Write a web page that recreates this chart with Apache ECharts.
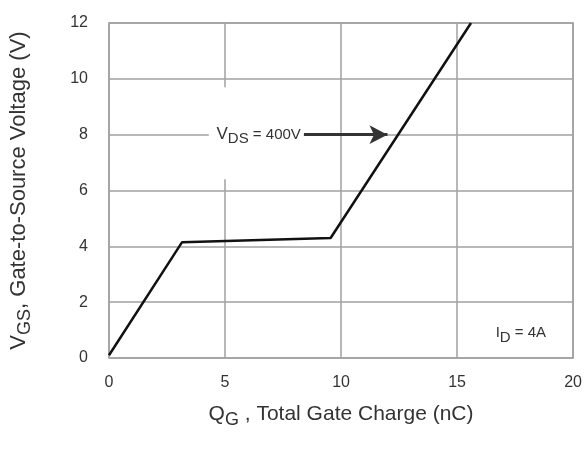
<!DOCTYPE html>
<html><head><meta charset="utf-8">
<script src="https://cdn.jsdelivr.net/npm/echarts@6/dist/echarts.min.js"></script>
<style>html,body{margin:0;padding:0;background:#fff}#c{width:585px;height:451px}</style>
</head><body><div id="c"></div>
<script>
const qg = [0, 3.15, 9.55, 15.6];
const vgs = [0.1, 4.15, 4.3, 12];
const xTicks = [0, 5, 10, 15, 20];
const yTicks = [0, 2, 4, 6, 8, 10, 12];
const vdsLabel = 'V_DS = 400V';
const idLabel = 'I_D = 4A';

const chart = echarts.init(document.getElementById('c'));
const font = '"Liberation Sans", Arial, sans-serif';
const grid = '#a0a0a0';
const txt = '#333';
chart.setOption({
  animation: false,
  grid: {left: 107, right: 7, top: 23, bottom: 93, show: true, borderColor: grid, borderWidth: 1.5, backgroundColor: 'transparent'},
  xAxis: {
    type: 'value', min: 0, max: 20, interval: 5,
    axisLine: {show: false}, axisTick: {show: false},
    splitLine: {lineStyle: {color: grid, width: 1.5}},
    axisLabel: {color: txt, fontSize: 16, fontFamily: font, margin: 17},
    name: '{a|Q}{s|G}{a| , Total Gate Charge (nC)}',
    nameLocation: 'middle', nameGap: 41,
    nameTextStyle: {rich: {
      a: {fontSize: 21, fontFamily: font, color: txt},
      s: {fontSize: 18, fontFamily: font, color: txt, padding: [12, 0, 0, 0]}
    }}
  },
  yAxis: {
    type: 'value', min: 0, max: 12, interval: 2,
    axisLine: {show: false}, axisTick: {show: false},
    splitLine: {lineStyle: {color: grid, width: 1.5}},
    axisLabel: {color: txt, fontSize: 16, fontFamily: font, margin: 21},
    name: '{a|V}{s|GS}{a|, Gate-to-Source Voltage (V)}',
    nameLocation: 'middle', nameGap: 75,
    nameTextStyle: {rich: {
      a: {fontSize: 22, fontFamily: font, color: txt},
      s: {fontSize: 18, fontFamily: font, color: txt, padding: [12, 0, 0, 0]}
    }}
  },
  series: [{
    type: 'line',
    data: qg.map((x, i) => [x, vgs[i]]),
    symbol: 'none',
    lineStyle: {color: '#111', width: 2.5},
    z: 5,
    markArea: {
      silent: true,
      itemStyle: {color: '#fff'},
      data: [
        [{xAxis: 4.5, yAxis: 6.4}, {xAxis: 5.5, yAxis: 9.7}],
        [{xAxis: 4.3, yAxis: 7.7}, {xAxis: 8.4, yAxis: 8.3}]
      ]
    },
    markLine: {
      silent: true,
      symbol: ['none', 'arrow'],
      symbolSize: [14, 18],
      lineStyle: {color: '#333', width: 3, type: 'solid'},
      label: {show: false},
      data: [[{coord: [8.4, 8]}, {coord: [12.0, 8]}]]
    },
    markPoint: {
      silent: true,
      symbol: 'circle', symbolSize: 0,
      data: [
        {coord: [6.45, 8], label: {show: true, position: 'inside',
          formatter: '{a|V}{s|DS}{b| = 400V}',
          rich: {
            a: {fontSize: 17, fontFamily: font, color: txt},
            s: {fontSize: 15, fontFamily: font, color: txt, padding: [9, 0, 0, 0]},
            b: {fontSize: 15, fontFamily: font, color: txt}
          }}},
        {coord: [17.75, 0.9], label: {show: true, position: 'inside',
          formatter: '{a|I}{s|D}{b| = 4A}',
          rich: {
            a: {fontSize: 15, fontFamily: font, color: txt},
            s: {fontSize: 15, fontFamily: font, color: txt, padding: [9, 0, 0, 0]},
            b: {fontSize: 15, fontFamily: font, color: txt}
          }}}
      ]
    }
  }]
});
</script></body></html>
